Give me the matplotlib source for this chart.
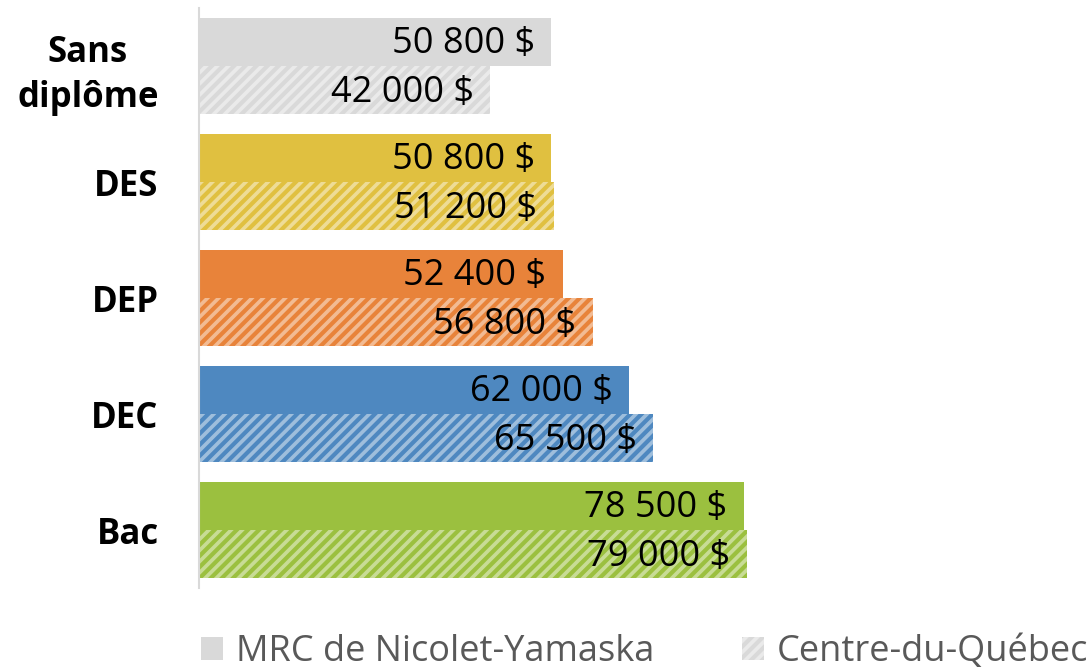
import numpy as np
import matplotlib.pyplot as plt
from matplotlib.patches import Patch
from matplotlib.colors import to_rgb

plt.rcParams['font.family'] = ['Open Sans', 'DejaVu Sans']
plt.rcParams['hatch.linewidth'] = 3

categories = ['Sans\ndiplôme', 'DES', 'DEP', 'DEC', 'Bac']
mrc = [50800, 50800, 52400, 62000, 78500]
cdq = [42000, 51200, 56800, 65500, 79000]
colors = ['#D9D9D9', '#E0C040', '#E8833A', '#4E88C0', '#9BC03F']
series_names = ['MRC de Nicolet-Yamaska', 'Centre-du-Québec']


def tint(c, f):
    r = np.array(to_rgb(c))
    return tuple(r + (1 - r) * f)


def fmt(v):
    return f'{v:,}'.replace(',', ' ') + ' $'


fig = plt.figure(figsize=(10.89, 6.68), dpi=100)
ax = fig.add_axes([199 / 1089, 80 / 668, 886 / 1089, 580 / 668])

y = np.arange(len(categories))
h = 0.417
inset = 2400  # labels sit just inside the bar end
for i in range(len(categories)):
    ax.barh(y[i] - h / 2, mrc[i], height=h, color=colors[i], linewidth=0)
    ax.barh(y[i] + h / 2, cdq[i], height=h, facecolor=tint(colors[i], 0.45),
            edgecolor=colors[i], hatch='///', linewidth=0)
    ax.text(mrc[i] - inset, y[i] - h / 2 + 0.02, fmt(mrc[i]), ha='right', va='center',
            fontsize=26, color='black')
    ax.text(cdq[i] - inset, y[i] + h / 2 + 0.02, fmt(cdq[i]), ha='right', va='center',
            fontsize=26, color='black')

ax.set_ylim(len(categories) - 0.5, -0.5)
ax.set_xlim(0, 127700)
ax.set_yticks(y)
ax.set_yticklabels(categories, fontsize=25, fontweight='bold', multialignment='center',
                   linespacing=1.35)
ax.tick_params(axis='y', length=0, pad=29)
ax.set_xticks([])
for s in ['top', 'right', 'bottom']:
    ax.spines[s].set_visible(False)
ax.spines['left'].set_color('#D9D9D9')
ax.spines['left'].set_linewidth(1.5)

handles = [Patch(facecolor='#D9D9D9', linewidth=0),
           Patch(facecolor=tint('#D9D9D9', 0.45), edgecolor='#D9D9D9', hatch='///', linewidth=0)]
fig.legend(handles, series_names, loc='center', bbox_to_anchor=(0.592, 0.024),
           ncol=2, frameon=False, fontsize=26, labelcolor='#595959',
           handlelength=0.62, handleheight=0.62, handletextpad=0.36, columnspacing=2.4)

fig.savefig('out.png', dpi=100)
